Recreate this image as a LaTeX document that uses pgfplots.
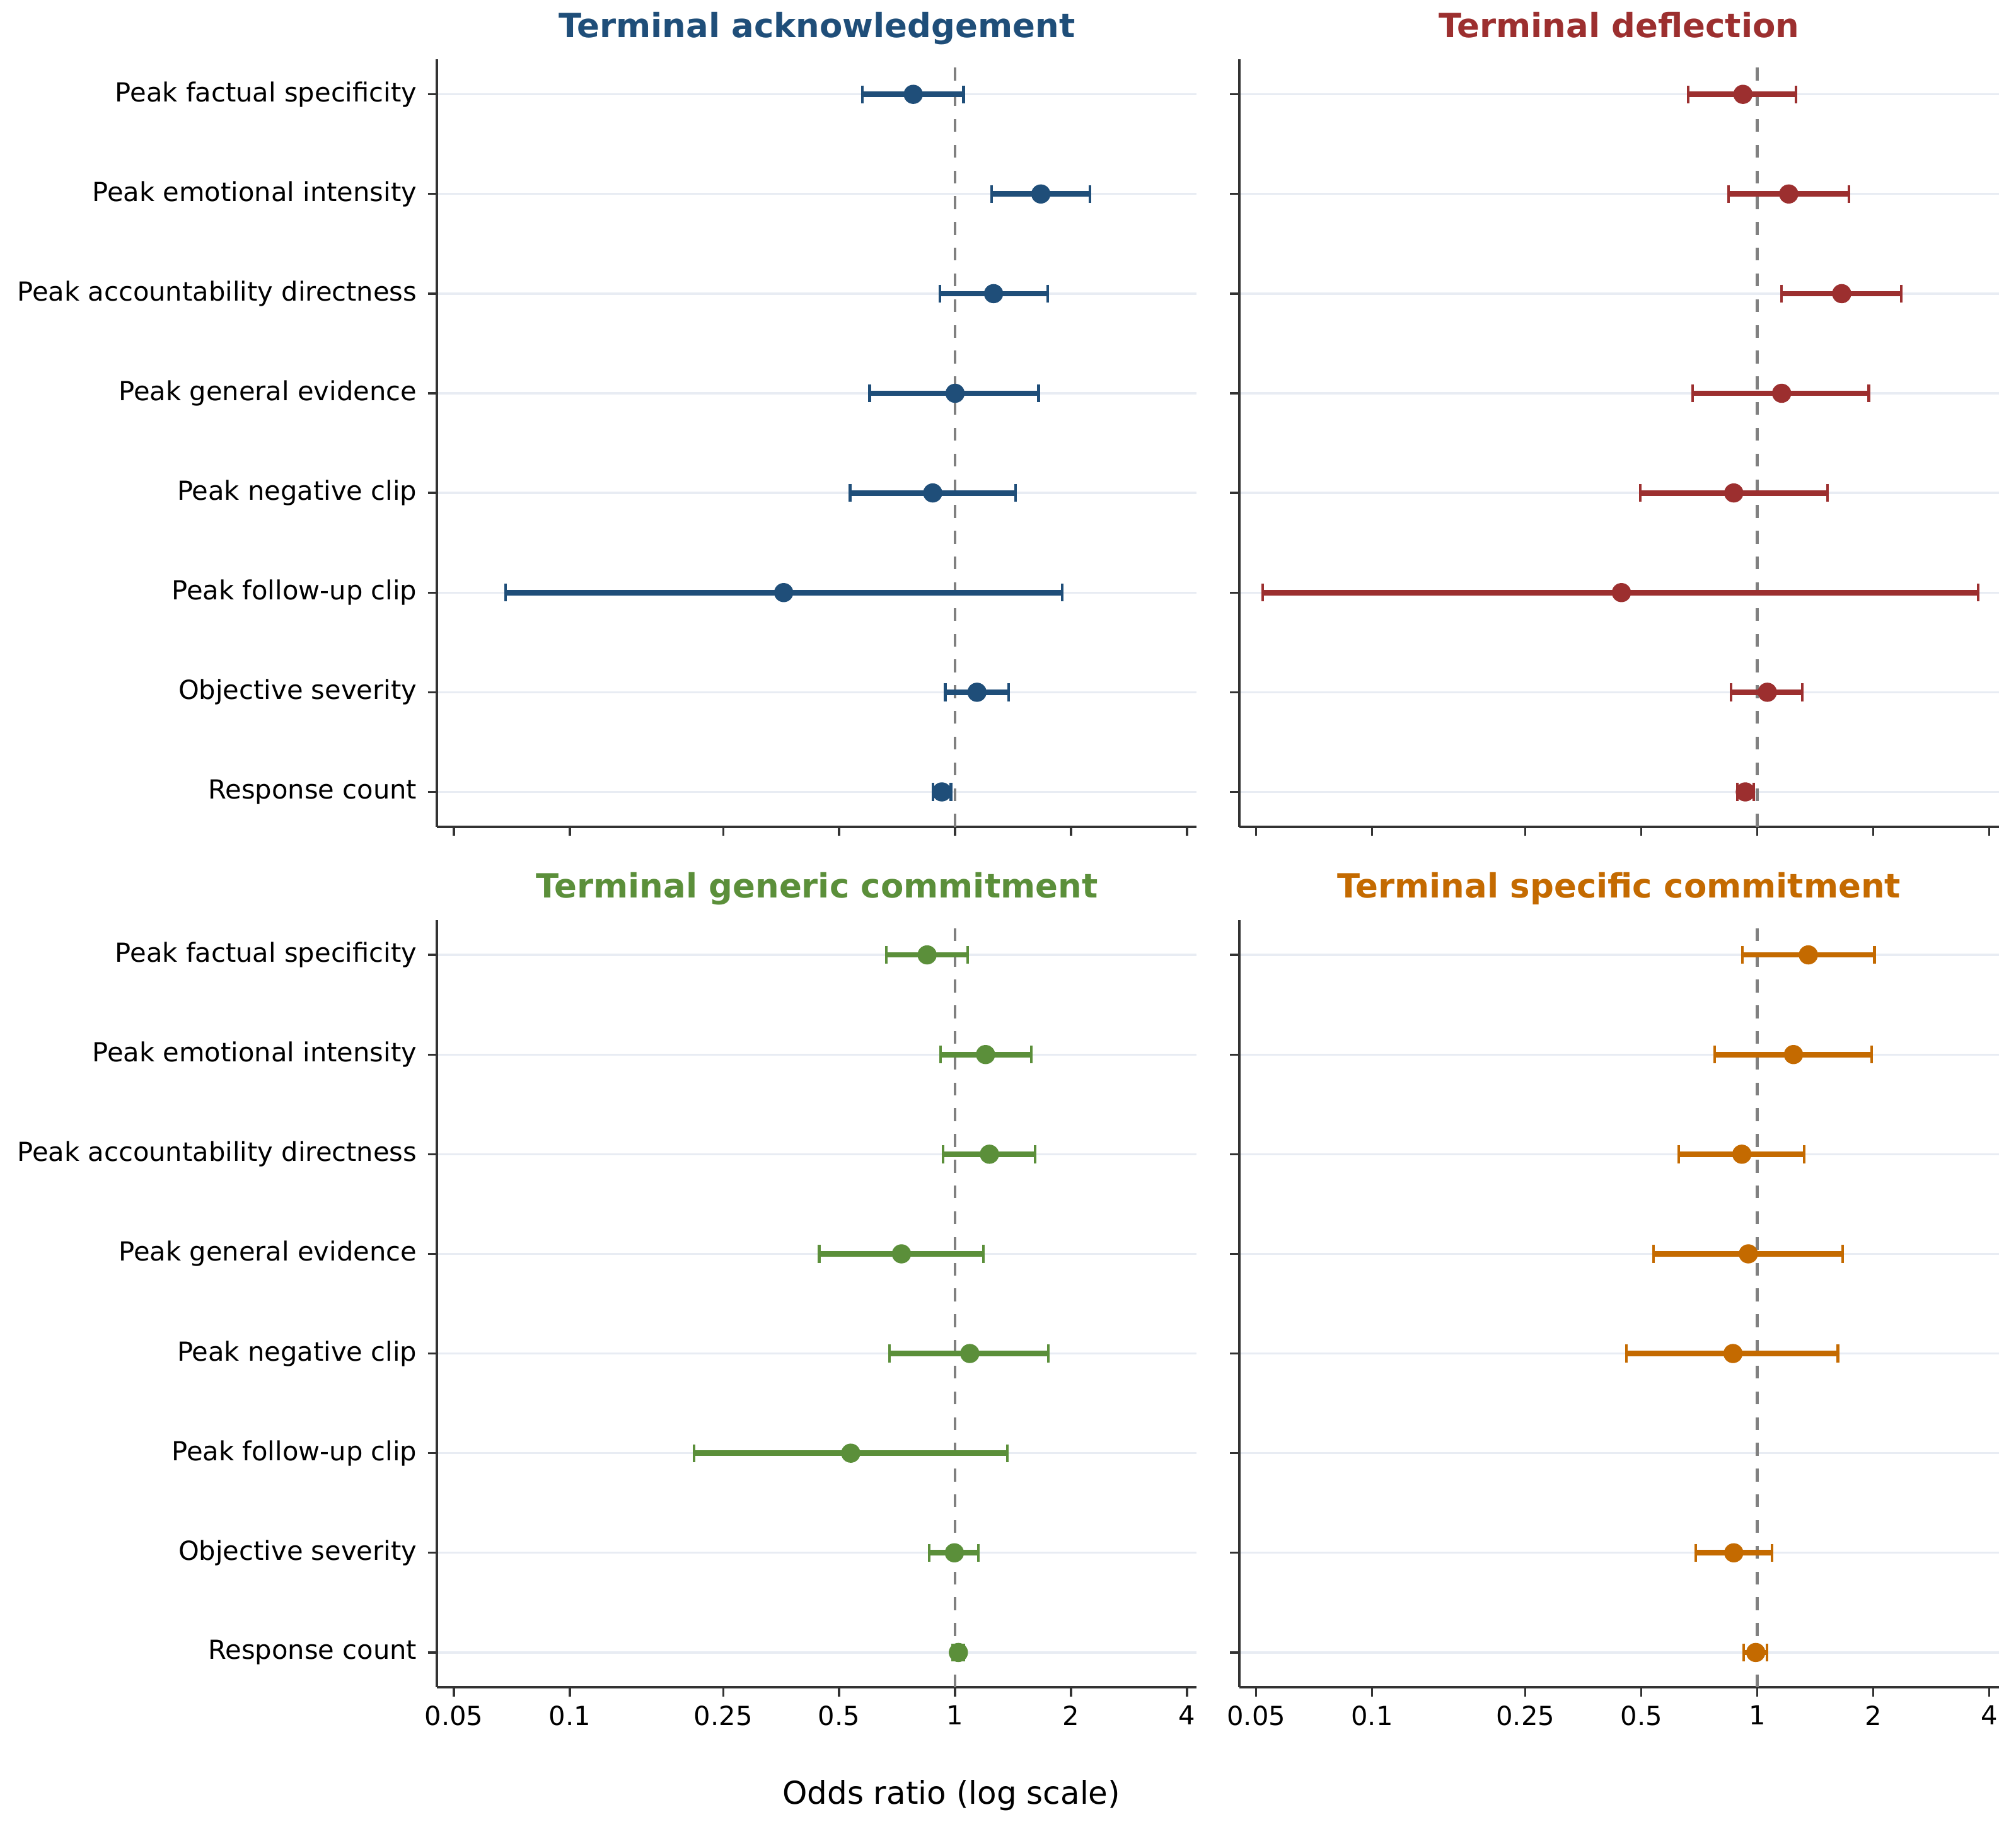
\documentclass[border=0pt]{standalone}
\usepackage{fontspec}
\setmainfont{DejaVu Sans}
\usepackage{pgfplots}
\pgfplotsset{compat=1.18}
\definecolor{cblue}{HTML}{1F4E79}
\definecolor{cred}{HTML}{9C2F2F}
\definecolor{cgreen}{HTML}{5B8F3A}
\definecolor{corange}{HTML}{C46A00}
\definecolor{spine}{HTML}{333333}
\definecolor{gridc}{HTML}{E8ECF3}
\definecolor{refl}{HTML}{808080}

% one row of a forest plot: colour, y, OR, lower CI, upper CI
\newcommand{\fprow}[5]{%
  \addplot[#1, line width=2.1pt, mark=|, mark size=3.4pt, mark options={line width=1pt, solid}, forget plot] coordinates {(#4,#2) (#5,#2)};
  \addplot[#1, only marks, mark=*, mark size=3.45pt, forget plot] coordinates {(#3,#2)};
}
\newcommand{\refline}{%
  \addplot[refl, line width=1.15pt, dash pattern=on 4.9pt off 4.9pt, forget plot] coordinates {(1,-0.35) (1,7.35)};
}

\pgfplotsset{
  forestpanel/.style={
    scale only axis, width=289.2pt, height=292.2pt,
    ymin=-0.35, ymax=7.35,
    xtick={0.05,0.1,0.25,0.5,1,2,4},
    xminorticks=false,
    ytick={0,1,2,3,4,5,6,7},
    axis x line*=bottom, axis y line*=left,
    axis line style={-, line width=0.95pt, color=spine},
    tick align=outside,
    major tick length=3.5pt,
    every tick/.style={line width=0.8pt, color=spine},
    ymajorgrids, xmajorgrids=false,
    grid style={line width=0.8pt, color=gridc},
    tick label style={font=\fontsize{10}{12}\selectfont, color=black},
    yticklabel style={anchor=east, inner sep=0pt, xshift=-4pt},
    every axis title/.style={at={(0.5,1)}, anchor=base, yshift=8.4pt, inner sep=0pt, font=\fontsize{12.7}{15}\selectfont\bfseries},
  },
  ylabs/.style={yticklabels={Response count, Objective severity, Peak follow-up clip, Peak negative clip, Peak general evidence, Peak accountability directness, Peak emotional intensity, Peak factual specificity}},
  nolabs/.style={yticklabels={}},
  xlabs/.style={xticklabels={0.05,0.1,0.25,0.5,1,2,4}},
  noxlabs/.style={xticklabels={}},
}

\begin{document}
\begin{tikzpicture}
\useasboundingbox (0,0) rectangle (767.52pt,696.24pt);

% Top left: Terminal acknowledgement
\begin{axis}[xmode=log, xmin=0.0452, xmax=4.24, forestpanel, ylabs, noxlabs, at={(166.4pt,381.4pt)}, anchor=south west,
  title={Terminal acknowledgement}, title style={text=cblue}]
\refline
\fprow{cblue}{7}{0.779}{0.574}{1.052}
\fprow{cblue}{6}{1.670}{1.246}{2.238}
\fprow{cblue}{5}{1.259}{0.913}{1.741}
\fprow{cblue}{4}{1.000}{0.600}{1.647}
\fprow{cblue}{3}{0.875}{0.534}{1.434}
\fprow{cblue}{2}{0.359}{0.068}{1.897}
\fprow{cblue}{1}{1.140}{0.943}{1.377}
\fprow{cblue}{0}{0.924}{0.877}{0.976}
\end{axis}

% Top right: Terminal deflection
\begin{axis}[xmode=log, xmin=0.0452, xmax=4.24, forestpanel, nolabs, noxlabs, at={(471.8pt,381.4pt)}, anchor=south west,
  title={Terminal deflection}, title style={text=cred}]
\refline
\fprow{cred}{7}{0.918}{0.662}{1.262}
\fprow{cred}{6}{1.207}{0.842}{1.732}
\fprow{cred}{5}{1.657}{1.155}{2.365}
\fprow{cred}{4}{1.157}{0.680}{1.948}
\fprow{cred}{3}{0.869}{0.497}{1.522}
\fprow{cred}{2}{0.444}{0.052}{3.750}
\fprow{cred}{1}{1.062}{0.855}{1.308}
\fprow{cred}{0}{0.931}{0.889}{0.980}
\end{axis}

% Bottom left: Terminal generic commitment
\begin{axis}[xmode=log, xmin=0.0452, xmax=4.24, forestpanel, ylabs, xlabs, at={(166.4pt,53.7pt)}, anchor=south west,
  title={Terminal generic commitment}, title style={text=cgreen}]
\refline
\fprow{cgreen}{7}{0.846}{0.663}{1.079}
\fprow{cgreen}{6}{1.200}{0.916}{1.577}
\fprow{cgreen}{5}{1.228}{0.932}{1.614}
\fprow{cgreen}{4}{0.726}{0.444}{1.186}
\fprow{cgreen}{3}{1.092}{0.676}{1.746}
\fprow{cgreen}{2}{0.536}{0.210}{1.368}
\fprow{cgreen}{1}{0.996}{0.856}{1.150}
\fprow{cgreen}{0}{1.020}{0.985}{1.055}
\end{axis}

% Bottom right: Terminal specific commitment
\begin{axis}[xmode=log, xmin=0.0452, xmax=4.24, forestpanel, nolabs, xlabs, at={(471.8pt,53.7pt)}, anchor=south west,
  title={Terminal specific commitment}, title style={text=corange}]
\refline
\fprow{corange}{7}{1.357}{0.916}{2.015}
\fprow{corange}{6}{1.242}{0.775}{1.981}
\fprow{corange}{5}{0.912}{0.626}{1.324}
\fprow{corange}{4}{0.948}{0.538}{1.664}
\fprow{corange}{3}{0.865}{0.457}{1.620}
\fprow{corange}{1}{0.869}{0.692}{1.091}
\fprow{corange}{0}{0.991}{0.922}{1.060}
\end{axis}

\node[anchor=base, font=\fontsize{12}{14}\selectfont, text=black] at (362.2pt,9.2pt) {Odds ratio (log scale)};
\end{tikzpicture}
\end{document}
